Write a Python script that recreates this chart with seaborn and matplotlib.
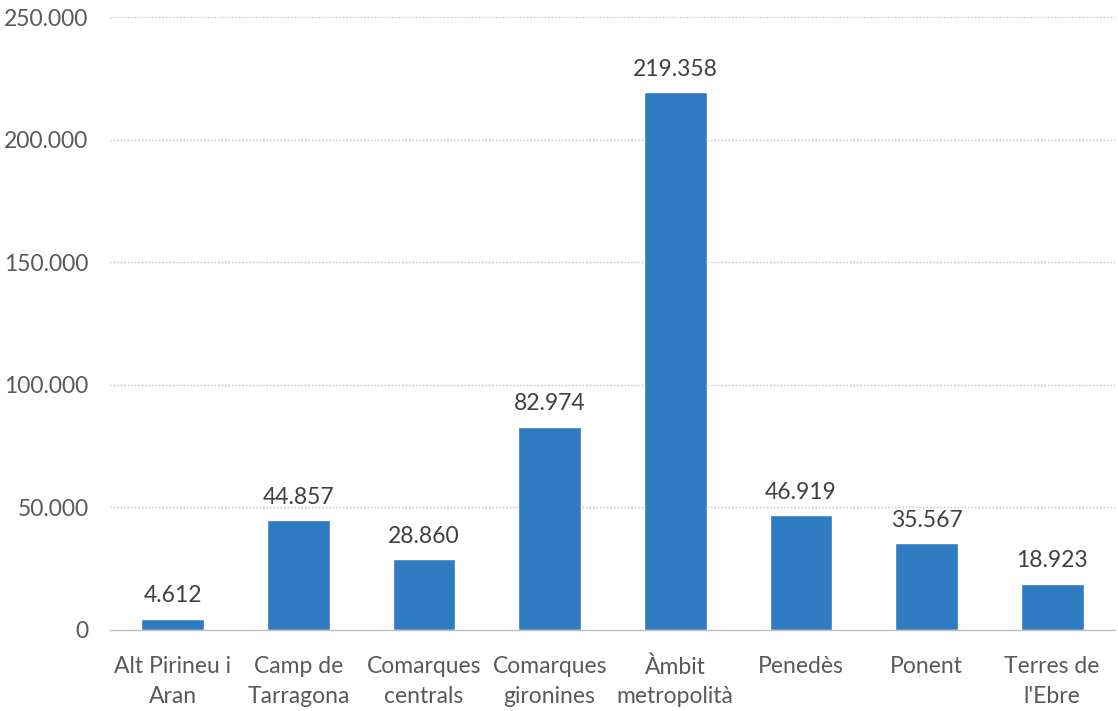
import matplotlib
matplotlib.use("Agg")
import matplotlib.pyplot as plt
import seaborn as sns
import pandas as pd

# Dades per àmbit territorial
ambits = ["Alt Pirineu i\nAran", "Camp de\nTarragona", "Comarques\ncentrals",
          "Comarques\ngironines", "Àmbit\nmetropolità", "Penedès", "Ponent",
          "Terres de\nl'Ebre"]
valors = [4612, 44857, 28860, 82974, 219358, 46919, 35567, 18923]
yticks = [0, 50000, 100000, 150000, 200000, 250000]

def fmt(v):
    return f"{v:,.0f}".replace(",", ".")

sns.set_theme(style="white")
plt.rcParams['font.family'] = ['Lato', 'DejaVu Sans']
text_color = "#595959"

fig = plt.figure(figsize=(11.18, 7.11), dpi=100)
ax = fig.add_axes([110 / 1118, 1 - 630 / 711, 1005 / 1118, 613 / 711])

df = pd.DataFrame({"ambit": ambits, "valor": valors})
sns.barplot(data=df, x="ambit", y="valor", color="#2F7BC2", width=0.5,
            saturation=1, ax=ax)

for i, v in enumerate(valors):
    ax.text(i, v + 5000, fmt(v), ha="center", va="bottom", fontsize=16.5,
            color="#404040")

ax.set_ylim(0, 250000)
ax.set_xlim(-0.5, len(ambits) - 0.5)
ax.set_yticks(yticks)
ax.set_yticklabels([fmt(t) for t in yticks], fontsize=16.5, color=text_color)
ax.set_xticks(range(len(ambits)))
ax.set_xticklabels(ambits, fontsize=16.5, color=text_color, linespacing=1.5)
ax.tick_params(axis="x", length=0, pad=19)
ax.tick_params(axis="y", length=0, pad=15.5)
for t in yticks[1:]:
    ax.axhline(t, color="#BFBFBF", linestyle=(0, (1, 1.5)), linewidth=1, zorder=0)
ax.set_xlabel("")
ax.set_ylabel("")
for s in ["top", "right", "left"]:
    ax.spines[s].set_visible(False)
ax.spines["bottom"].set_color("#BFBFBF")
ax.spines["bottom"].set_linewidth(1)

fig.savefig("out.png", dpi=100)
